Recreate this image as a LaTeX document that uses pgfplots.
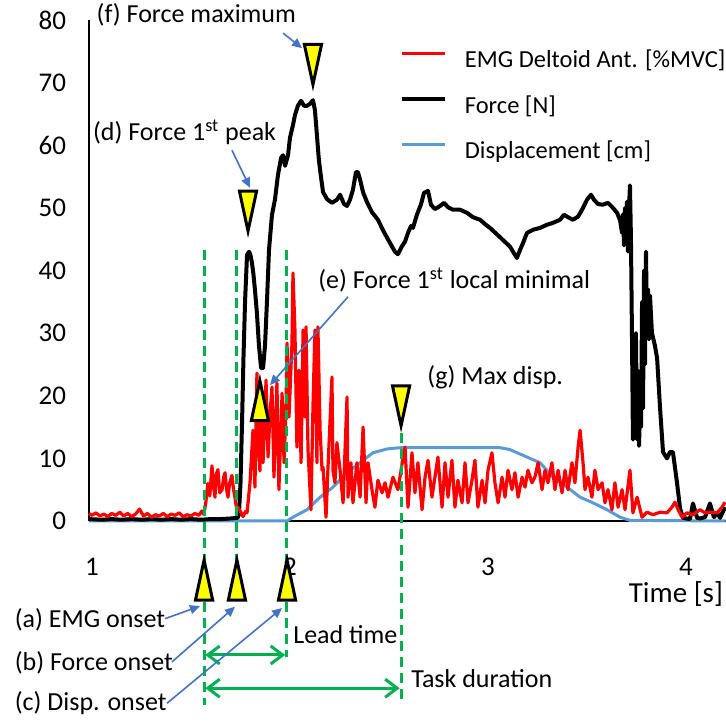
\documentclass[border=0pt]{standalone}
\usepackage{fontspec}
\setmainfont{Carlito}
\usepackage{pgfplots}
\pgfplotsset{compat=1.18}
\usetikzlibrary{arrows.meta}
\definecolor{emgred}{HTML}{FF0000}
\definecolor{dispblue}{HTML}{5B9BD5}
\definecolor{mkgreen}{HTML}{00B050}
\definecolor{arrowblue}{HTML}{4472C4}
\definecolor{mkyellow}{HTML}{FFFF00}
\pgfdeclareplotmark{tipdown}{%
  \pgfpathmoveto{\pgfqpoint{0pt}{0pt}}%
  \pgfpathlineto{\pgfqpoint{-4.3pt}{20pt}}%
  \pgfpathlineto{\pgfqpoint{4.3pt}{20pt}}%
  \pgfpathclose
  \pgfusepathqfillstroke}
\pgfdeclareplotmark{tipup}{%
  \pgfpathmoveto{\pgfqpoint{0pt}{0pt}}%
  \pgfpathlineto{\pgfqpoint{-4.3pt}{-20pt}}%
  \pgfpathlineto{\pgfqpoint{4.3pt}{-20pt}}%
  \pgfpathclose
  \pgfusepathqfillstroke}
\newcommand{\annfont}{\fontsize{13}{15.5}\selectfont}
\begin{document}
\begin{tikzpicture}
\begin{axis}[
  x=99pt, y=3.13125pt,
  xmin=0.985, xmax=4.2, ymin=0, ymax=80,
  axis lines=left,
  axis line style={-, line width=0.9pt, black},
  xtick={1,2,3,4}, ytick={0,10,...,80},
  major tick length=0pt,
  tick label style={font=\fontsize{13.5}{16}\selectfont},
  /pgf/number format/assume math mode=true,
  xticklabel style={inner sep=0pt, text height=8.6pt, text depth=0pt, yshift=-18.5pt},
  yticklabel style={xshift=-8pt},
  clip=false,
  reverse legend,
  legend cell align=left,
  legend image code/.code={\draw[#1] (0pt,3.5pt) -- (21.5pt,3.5pt);},
  legend style={draw=none, fill=none, at={(axis cs:2.556,75.9)}, anchor=north west,
    inner sep=0pt, row sep=8.35pt, font=\fontsize{12.25}{14}\selectfont,
    nodes={inner xsep=0pt},
    /tikz/every odd column/.append style={column sep=8.7pt}},
]
\coordinate (bbl) at (axis cs:0.5354,-32.26);
\coordinate (btr) at (axis cs:4.202,83.19);
% Displacement
\addplot[dispblue, line width=1.5pt, line join=round] coordinates {
(0.985,0)(1.985,0)(2.015,0.6)(2.05,1.2)(2.086,1.8)(2.152,3.8)(2.217,5.4)(2.288,7.7)(2.354,9.3)(2.419,10.9)(2.490,11.5)(2.556,11.7)(3.061,11.7)(3.111,11.4)(3.197,10.2)(3.263,9.3)(3.328,7.0)(3.399,5.4)(3.465,3.8)(3.530,2.9)(3.601,1.8)(3.667,0.6)(3.717,0.1)(4.2,0)};
\addlegendentry{Displacement [cm]}
% Force
\addplot[black, line width=2pt, line join=round] coordinates {
(0.985,0.3)(1.05,0.2)(1.1,0.3)(1.15,0.2)(1.2,0.3)(1.25,0.2)(1.3,0.3)(1.35,0.2)(1.4,0.3)(1.45,0.2)(1.5,0.3)(1.55,0.2)(1.6,0.3)(1.65,0.3)(1.7,0.4)(1.735,0.5)(1.742,1.0)(1.750,6.0)(1.758,16)(1.765,26)(1.773,35)(1.783,42.5)(1.793,43.0)(1.800,42.5)(1.808,41.2)(1.815,39.5)(1.823,36.9)(1.833,33.2)(1.843,28.1)(1.854,24.4)(1.864,24.4)(1.874,28.1)(1.884,35.3)(1.894,43.3)(1.909,48.9)(1.924,51.3)(1.939,55.2)(1.955,58.0)(1.965,58.4)(1.975,56.7)(1.990,58.4)(2.000,61.2)(2.015,63.2)(2.025,64.8)(2.040,66.3)(2.056,67.1)(2.071,66.3)(2.086,66.3)(2.101,66.6)(2.116,67.2)(2.126,65.6)(2.136,61.6)(2.146,57.6)(2.157,54.8)(2.167,52.5)(2.187,51.4)(2.212,50.8)(2.237,51.3)(2.253,52.1)(2.273,50.6)(2.288,50.3)(2.303,51.3)(2.318,52.9)(2.333,55.7)(2.343,55.7)(2.354,54.5)(2.369,52.5)(2.389,50.9)(2.414,49.3)(2.444,48.1)(2.475,46.1)(2.505,44.4)(2.530,43.0)(2.545,42.6)(2.566,43.9)(2.581,44.6)(2.596,46.0)(2.611,47.1)(2.621,46.8)(2.641,48.9)(2.662,50.6)(2.677,52.4)(2.697,52.7)(2.712,50.5)(2.732,49.8)(2.758,50.3)(2.778,50.8)(2.798,50.1)(2.823,49.7)(2.859,49.7)(2.894,49.2)(2.924,48.5)(2.960,48.1)(2.985,47.4)(3.010,46.8)(3.061,45.3)(3.111,43.8)(3.136,42.5)(3.146,42.0)(3.162,43.3)(3.177,44.4)(3.197,46.0)(3.227,46.5)(3.263,46.8)(3.298,47.3)(3.328,47.6)(3.364,48.1)(3.384,48.9)(3.404,48.5)(3.429,48.1)(3.455,48.6)(3.480,50.0)(3.500,51.3)(3.520,52.1)(3.535,51.3)(3.556,50.6)(3.581,50.5)(3.606,50.8)(3.631,50.0)(3.652,49.2)(3.667,48)(3.677,46)(3.682,49)(3.687,44)(3.692,50)(3.697,45)(3.702,51)(3.707,43)(3.712,50)(3.717,53.6)(3.722,45)(3.727,30)(3.732,13)(3.737,25)(3.742,14)(3.747,30)(3.753,13)(3.758,24)(3.763,12)(3.768,20)(3.773,15)(3.778,35)(3.783,18)(3.788,40)(3.793,25)(3.798,43)(3.803,30)(3.808,37)(3.813,29)(3.818,36)(3.828,30)(3.843,28)(3.854,26)(3.869,18)(3.884,11)(3.904,10)(3.919,11)(3.934,11)(3.955,6)(3.970,2)(3.985,0.5)(4.020,0.3)(4.035,2.8)(4.056,0.5)(4.071,0.4)(4.096,0.6)(4.121,2.8)(4.141,0.6)(4.157,1.3)(4.172,0.5)(4.197,2.2)};
\addlegendentry{Force [N]}
% EMG
\addplot[emgred, line width=1.6pt, line join=round] coordinates {
(0.985,1.2)(1.000,0.9)(1.020,1.3)(1.040,0.8)(1.060,1.1)(1.080,0.7)(1.100,1.2)(1.120,0.9)(1.140,1.4)(1.160,0.8)(1.180,1.2)(1.200,0.7)(1.220,1.1)(1.240,1.9)(1.260,0.8)(1.280,1.2)(1.300,0.6)(1.320,1.0)(1.340,0.8)(1.360,1.2)(1.380,0.7)(1.400,1.1)(1.420,0.9)(1.440,1.3)(1.460,0.7)(1.480,1.0)(1.500,0.8)(1.520,1.2)(1.540,0.9)(1.555,1.6)(1.565,1.0)
(1.575,3.0)(1.585,6.0)(1.595,4.0)(1.606,8.8)(1.614,5.5)(1.621,3.8)(1.628,7.5)(1.636,8.2)(1.645,4.5)(1.657,5.0)(1.665,7.0)(1.672,7.7)(1.680,5.0)(1.687,3.8)(1.695,6.0)(1.707,7.3)(1.715,5.0)(1.722,3.8)(1.730,2.0)(1.737,2.2)(1.750,1.5)(1.763,0.7)(1.775,1.5)(1.783,1.3)
(1.798,6.1)(1.813,14.5)(1.823,5.4)(1.833,23.6)(1.838,13.4)(1.848,8.0)(1.859,19.8)(1.864,9.3)(1.879,22.5)(1.889,10.2)(1.899,17.0)(1.909,21.4)(1.919,7.0)(1.934,22.0)(1.944,5.0)(1.960,20.4)(1.970,9.3)(1.980,18.2)(1.985,28.4)(1.995,16.6)(2.010,28.4)(2.015,39.6)(2.025,30.5)(2.035,11.8)(2.045,24.1)(2.056,9.3)(2.066,30.5)(2.076,16.6)(2.081,31.0)(2.091,11.3)(2.106,1.8)(2.116,18.2)(2.126,30.5)(2.136,9.3)(2.141,31.0)(2.152,14.5)(2.162,8.1)(2.167,8.6)(2.182,0.6)(2.192,8.6)(2.212,23.0)(2.217,8.1)(2.227,6.1)(2.237,12.5)(2.253,8.1)(2.268,2.9)(2.288,19.8)(2.293,3.8)(2.308,9.3)(2.318,2.9)(2.338,9.3)(2.354,3.8)(2.369,15.0)(2.384,2.9)(2.394,9.3)(2.414,5.0)(2.429,2.2)(2.444,6.5)(2.465,4.5)(2.480,6.1)(2.495,3.8)(2.520,7.0)(2.545,5.0)(2.561,8.1)(2.571,10.2)(2.581,11.8)(2.596,2.2)(2.616,10.9)(2.631,4.5)(2.646,9.3)(2.667,1.8)(2.682,7.0)(2.697,9.7)(2.717,3.8)(2.732,7.0)(2.747,10.2)(2.768,2.2)(2.783,9.3)(2.798,3.8)(2.818,9.7)(2.833,2.2)(2.848,6.5)(2.869,2.9)(2.884,9.3)(2.899,2.9)(2.919,6.5)(2.934,9.7)(2.949,2.2)(2.970,6.5)(2.985,2.9)(3.000,8.1)(3.020,10.9)(3.035,6.1)(3.051,2.9)(3.071,7.0)(3.086,3.8)(3.101,8.1)(3.121,5.0)(3.136,7.7)(3.152,3.8)(3.172,7.0)(3.187,5.4)(3.202,8.1)(3.222,6.1)(3.237,7.0)(3.253,9.3)(3.273,5.0)(3.288,8.1)(3.303,6.1)(3.323,9.3)(3.338,5.0)(3.354,8.1)(3.374,4.5)(3.389,8.1)(3.404,5.0)(3.424,9.3)(3.439,6.1)(3.455,11.8)(3.465,14.5)(3.480,9.3)(3.490,5.0)(3.505,7.0)(3.525,3.8)(3.540,8.1)(3.556,5.0)(3.576,6.1)(3.591,2.9)(3.606,5.0)(3.626,1.8)(3.641,6.1)(3.657,2.2)(3.677,5.0)(3.692,1.8)(3.717,8.1)(3.732,1.3)(3.753,3.8)(3.778,0.6)(3.803,1.4)(3.833,1.0)(3.869,1.4)(3.904,1.3)(3.929,2.2)(3.944,3.0)(3.960,1.8)(3.980,0.6)(4.005,1.3)(4.035,1.0)(4.071,1.8)(4.096,1.3)(4.131,1.4)(4.157,1.3)(4.182,2.2)(4.197,3.0)};
\addlegendentry{EMG Deltoid Ant. [\%MVC]}
% green dashed event lines
\addplot[forget plot, mkgreen, line width=1.5pt, dash pattern=on 5pt off 3pt] coordinates {(1.566,43.3)(1.566,-29.4)};
\addplot[forget plot, mkgreen, line width=1.5pt, dash pattern=on 5pt off 3pt] coordinates {(1.730,43.3)(1.730,-8)};
\addplot[forget plot, mkgreen, line width=1.5pt, dash pattern=on 5pt off 3pt] coordinates {(1.983,43.3)(1.983,-21.7)};
\addplot[forget plot, mkgreen, line width=1.5pt, dash pattern=on 5pt off 3pt] coordinates {(2.561,14)(2.561,-29.4)};
% green double arrows
\draw[mkgreen, line width=1.5pt, {Straight Barb[length=6pt,width=9pt]}-{Straight Barb[length=6pt,width=9pt]}] (axis cs:1.572,-21.4) -- (axis cs:1.976,-21.4);
\draw[mkgreen, line width=1.5pt, {Straight Barb[length=6pt,width=9pt]}-{Straight Barb[length=6pt,width=9pt]}] (axis cs:1.572,-26.7) -- (axis cs:2.554,-26.7);
% triangles
\addplot[forget plot, only marks, mark=tipdown, mark options={fill=mkyellow, draw=black, line width=1.5pt, line join=miter}] coordinates {(1.788,46.3)(2.116,69.7)(2.561,15.2)};
\addplot[forget plot, only marks, mark=tipup, mark options={fill=mkyellow, draw=black, line width=1.5pt, line join=miter}] coordinates {(1.848,22.4)(1.566,-6.25)(1.732,-6.25)(1.985,-6.25)};
% blue arrows
\begin{scope}[arrowblue, line width=0.8pt, -{Triangle[length=5pt,width=4.5pt]}]
\draw (axis cs:1.965,77.9) -- (axis cs:2.061,75.5);
\draw (axis cs:1.707,59.2) -- (axis cs:1.798,53.2);
\draw (axis cs:2.293,35.8) -- (axis cs:1.899,21.7);
\draw (axis cs:1.369,-15.6) -- (axis cs:1.545,-13.6);
\draw (axis cs:1.404,-22.5) -- (axis cs:1.722,-13.7);
\draw (axis cs:1.379,-29.1) -- (axis cs:1.960,-13.9);
\end{scope}
% annotation texts
\node[anchor=west, inner sep=0pt, font=\annfont] at (axis cs:1.022,80.8) {(f) Force maximum};
\node[anchor=west, inner sep=1pt, fill=white, font=\annfont] at (axis cs:0.993,62.0) {(d) Force 1\textsuperscript{st} peak};
\node[anchor=west, inner sep=0pt, font=\annfont] at (axis cs:2.141,38.5) {(e) Force 1\textsuperscript{st} local minimal};
\node[anchor=west, inner sep=0pt, font=\annfont] at (axis cs:2.692,23.0) {(g) Max disp.};
\node[anchor=west, inner sep=0pt, font=\annfont] at (axis cs:0.608,-15.8) {(a) EMG onset};
\node[anchor=west, inner sep=0pt, font=\annfont] at (axis cs:0.608,-22.7) {(b) Force onset};
\node[anchor=west, inner sep=0pt, font=\annfont] at (axis cs:0.608,-29.1) {(c) Disp. onset};
\node[anchor=west, inner sep=0pt, font=\annfont] at (axis cs:2.015,-18.2) {Lead time};
\node[anchor=west, inner sep=0pt, font=\annfont] at (axis cs:2.611,-25.1) {Task duration};
\node[inner sep=0pt, font=\fontsize{14.5}{17}\selectfont] at (axis cs:3.949,-11.7) {Time [s]};
\end{axis}
\pgfresetboundingbox
\path[use as bounding box] (bbl) rectangle (btr);
\end{tikzpicture}
\end{document}
